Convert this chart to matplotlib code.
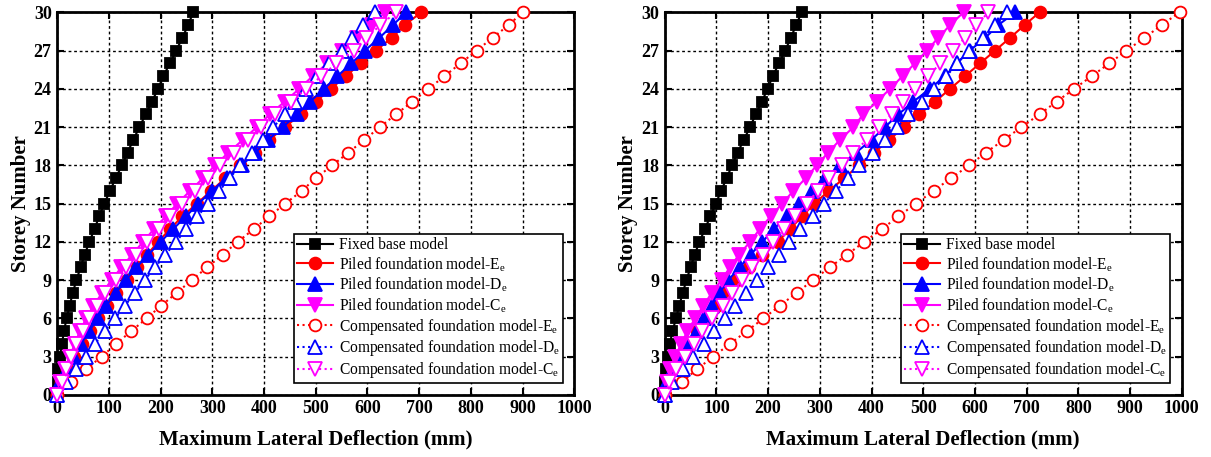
import numpy as np
import matplotlib
matplotlib.use("Agg")
import matplotlib.pyplot as plt

plt.rcParams['font.family'] = 'Liberation Serif'
plt.rcParams['mathtext.fontset'] = 'custom'
plt.rcParams['mathtext.rm'] = 'Liberation Serif'

storey = np.arange(0, 31)

# left panel
fixed_L = [0, 1, 2, 5, 9, 13, 18, 24, 30, 37, 45, 53, 62, 72, 81, 91, 102, 113, 125, 136, 147,
           159, 171, 183, 195, 205, 218, 230, 242, 253, 263]
piledE_L = [0, 7, 19, 33, 47, 63, 79, 96, 114, 134, 154, 174, 195, 218, 242, 270, 298, 325, 354, 382,
            410, 440, 471, 500, 529, 558, 587, 616, 647, 672, 704]
piledD_L = [0, 6, 18, 32, 46, 62, 78, 95, 113, 133, 153, 176, 200, 224, 249, 273, 299, 328, 357, 383,
            408, 436, 464, 489, 516, 542, 569, 595, 623, 649, 675]
piledC_L = [0, 6, 14, 24, 34, 44, 56, 70, 87, 105, 124, 145, 166, 187, 210, 232, 257, 282, 305, 331,
            359, 386, 411, 440, 468, 494, 522, 550, 579, 608, 634]
compE_L = [0, 26, 55, 86, 114, 143, 173, 201, 231, 260, 290, 320, 349, 380, 410, 441, 473, 500, 532, 563,
           594, 624, 655, 687, 718, 749, 780, 811, 842, 873, 900]
compD_L = [0, 17, 36, 55, 73, 92, 112, 131, 150, 169, 189, 209, 230, 249, 271, 292, 313, 334, 353, 376,
           398, 418, 440, 460, 481, 503, 526, 550, 571, 592, 614]
compC_L = [0, 9, 17, 27, 37, 49, 62, 76, 93, 113, 132, 153, 174, 196, 218, 241, 266, 291, 315, 341,
           368, 395, 421, 452, 482, 511, 540, 573, 598, 625, 655]

# right panel
fixed_R = [0, 1, 2, 6, 10, 15, 22, 28, 35, 42, 50, 58, 67, 78, 88, 99, 109, 120, 130, 141, 153,
           165, 176, 188, 199, 209, 221, 233, 244, 254, 265]
piledE_R = [0, 8, 19, 32, 46, 62, 81, 100, 118, 140, 163, 189, 219, 242, 266, 289, 318, 347, 376, 405,
            434, 463, 492, 523, 552, 581, 610, 639, 668, 696, 725]
piledD_R = [0, 5, 16, 30, 46, 62, 76, 91, 106, 123, 145, 166, 189, 211, 236, 260, 284, 310, 340, 370,
            400, 426, 452, 481, 513, 542, 565, 590, 620, 645, 678]
piledC_R = [0, 5, 11, 20, 32, 44, 59, 75, 91, 110, 126, 144, 165, 184, 205, 227, 249, 273, 294, 316,
            339, 365, 384, 410, 436, 460, 484, 507, 529, 552, 578]
compE_R = [0, 33, 62, 94, 126, 159, 191, 223, 255, 287, 319, 353, 386, 420, 452, 486, 520, 554, 589, 621,
           656, 690, 725, 758, 792, 826, 860, 893, 928, 961, 996]
compD_R = [0, 15, 36, 55, 76, 95, 117, 136, 157, 178, 199, 221, 240, 262, 287, 308, 331, 355, 376, 402,
           426, 450, 471, 497, 520, 545, 566, 588, 615, 639, 663]
compC_R = [0, 8, 22, 40, 56, 73, 91, 112, 130, 149, 168, 190, 210, 231, 252, 275, 296, 318, 342, 365,
           391, 414, 439, 461, 484, 510, 533, 557, 581, 603, 626]

labels = ['Fixed base model',
          'Piled foundation model-E$_\\mathregular{e}$',
          'Piled foundation model-D$_\\mathregular{e}$',
          'Piled foundation model-C$_\\mathregular{e}$',
          'Compensated foundation model-E$_\\mathregular{e}$',
          'Compensated foundation model-D$_\\mathregular{e}$',
          'Compensated foundation model-C$_\\mathregular{e}$']
styles = [('black', 's', '-', True),
          ('red', 'o', '-', True),
          ('blue', '^', '-', True),
          ('magenta', 'v', '-', True),
          ('red', 'o', ':', False),
          ('blue', '^', ':', False),
          ('magenta', 'v', ':', False)]
sizes = [7.5, 8.5, 9.5, 9.5, 8.5, 9.5, 9.5]

panels = [[fixed_L, piledE_L, piledD_L, piledC_L, compE_L, compD_L, compC_L],
          [fixed_R, piledE_R, piledD_R, piledC_R, compE_R, compD_R, compC_R]]

fig = plt.figure(figsize=(12.11, 4.57), dpi=100)
ax_pos = [[0.0473, 0.136, 0.4269, 0.837], [0.5489, 0.136, 0.4269, 0.837]]

for pos, data in zip(ax_pos, panels):
    ax = fig.add_axes(pos)
    for x, lab, (c, m, ls, filled), ms in zip(data, labels, styles, sizes):
        ax.plot(x, storey, color=c, marker=m, linestyle=ls, lw=1.5, ms=ms,
                markerfacecolor=c if filled else 'white', markeredgecolor=c,
                markeredgewidth=1.3, label=lab, clip_on=False, zorder=3)
    ax.set_xlim(0, 1000)
    ax.set_ylim(0, 30)
    ax.set_xticks(np.arange(0, 1001, 100))
    ax.set_yticks(np.arange(0, 31, 3))
    ax.grid(True, color='black', linestyle=(0, (2, 2)), linewidth=1)
    ax.tick_params(direction='in', top=True, right=True, length=5, width=1.5,
                   labelsize=13, pad=4)
    for t in ax.get_xticklabels() + ax.get_yticklabels():
        t.set_fontweight('bold')
    for s in ax.spines.values():
        s.set_linewidth(2)
    ax.set_xlabel('Maximum Lateral Deflection (mm)', fontsize=15, fontweight='bold', labelpad=9)
    ax.set_ylabel('Storey Number', fontsize=15, fontweight='bold', labelpad=2)
    leg = ax.legend(loc='lower right', bbox_to_anchor=(0.978, 0.03), fontsize=11.2,
                    fancybox=False, framealpha=1, edgecolor='black', handlelength=2.3,
                    labelspacing=0.12, borderpad=0.2, handletextpad=0.4, borderaxespad=0)
    leg.get_frame().set_linewidth(1.2)

fig.savefig('out.png', dpi=100)
